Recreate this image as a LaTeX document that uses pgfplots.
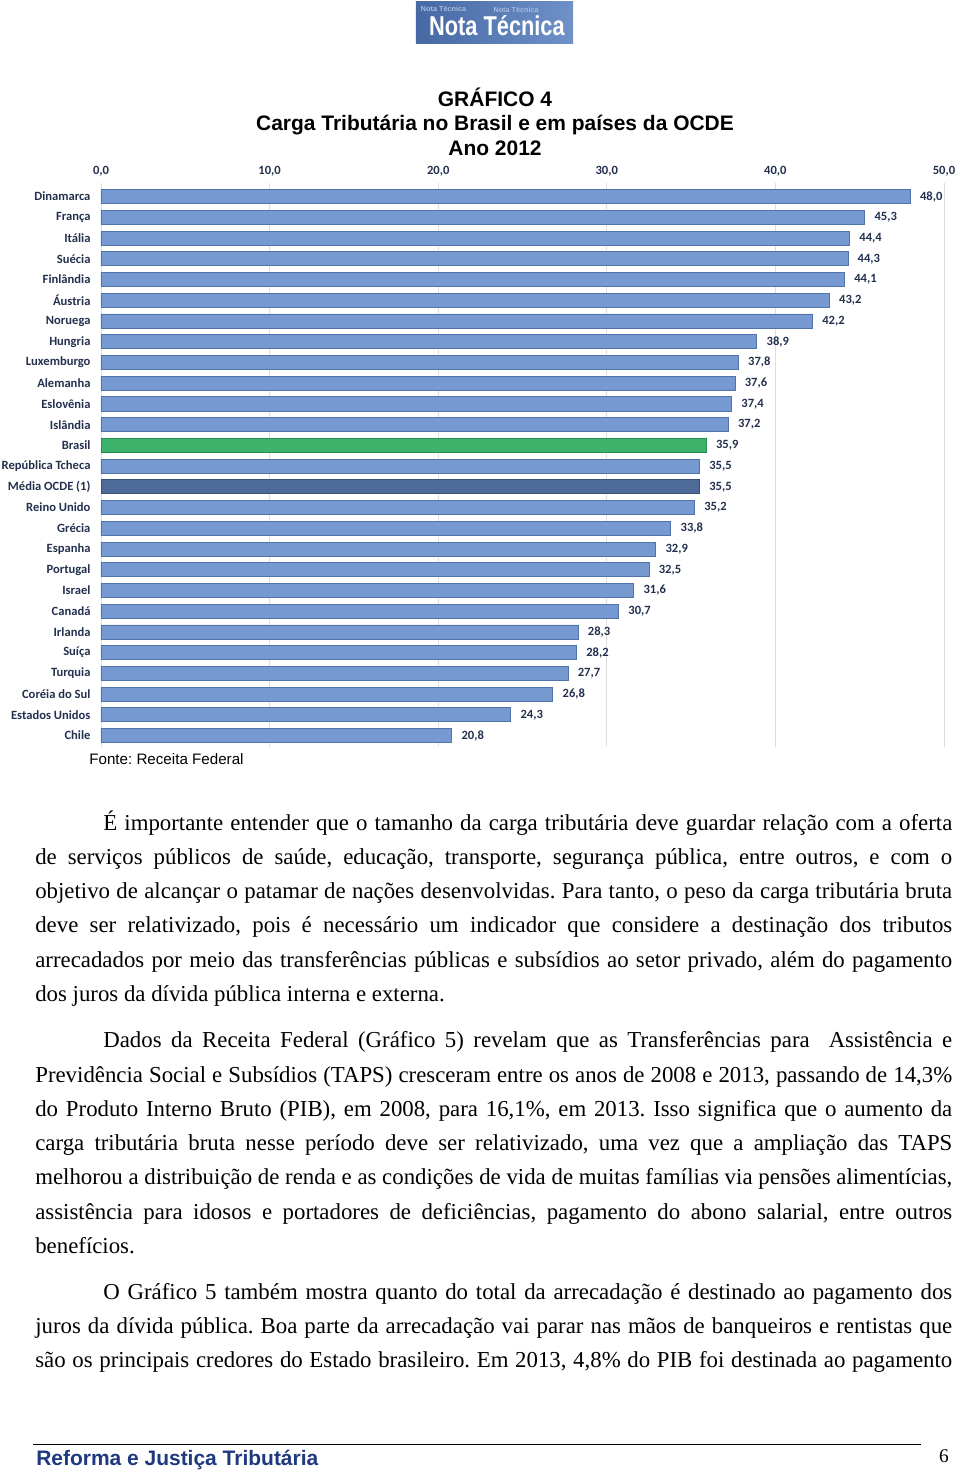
\documentclass[border=0pt]{standalone}
\usepackage{pgfplots}
\pgfplotsset{compat=1.18}
\usepackage{fontspec}
\usepackage{graphicx}
\setmainfont{Liberation Serif}
\newfontfamily\arial{Liberation Sans}
\newfontfamily\calibri{Carlito}
\frenchspacing
\definecolor{barblue}{RGB}{118,153,210}
\definecolor{barborder}{RGB}{80,115,170}
\definecolor{brgreen}{RGB}{60,178,106}
\definecolor{brborder}{RGB}{40,140,80}
\definecolor{ocde}{RGB}{78,106,152}
\definecolor{ocdeborder}{RGB}{55,80,120}
\definecolor{lbl}{RGB}{35,48,78}
\definecolor{gridc}{RGB}{222,222,222}
\definecolor{footblue}{RGB}{31,56,128}
\definecolor{logoA}{RGB}{70,105,165}
\definecolor{logoB}{RGB}{110,145,200}
\begin{document}
\begin{tikzpicture}
\path[use as bounding box] (0,0) rectangle (595.2pt,-912.64pt);
% logo
\fill[left color=logoA, right color=logoB] (257.9pt,-1.2pt) rectangle (355.3pt,-26.7pt);
\node[anchor=base, inner sep=0, text=logoB!60!white, font=\arial\bfseries\fontsize{4.5}{5}\selectfont] at (275pt,-7pt) {Nota Técnica};
\node[anchor=base, inner sep=0, text=logoB!60!white, font=\arial\bfseries\fontsize{4.5}{5}\selectfont] at (320pt,-8pt) {Nota Técnica};
\node[anchor=base, inner sep=0, text=white, font=\arial\bfseries\fontsize{13.5}{15}\selectfont] at (308.1pt,-22.2pt) {\scalebox{1}[1.25]{Nota Técnica}};
% title
\begin{scope}[every node/.style={anchor=base, inner sep=0, font=\arial\bfseries\fontsize{13}{15}\selectfont}]
\node at (306.9pt,-66.3pt) {GRÁFICO 4};
\node at (306.9pt,-81.2pt) {Carga Tributária no Brasil e em países da OCDE};
\node at (306.9pt,-96.7pt) {Ano 2012};
\end{scope}
\begin{axis}[
  at={(62.62pt,-463.14pt)}, anchor=south west,
  scale only axis, width=522.66pt, height=349.6pt,
  xbar, bar width=8.7pt, bar shift=0pt,
  xmin=0, xmax=50, ymin=-0.55, ymax=26.65,
  xtick={0,10,...,50}, xticklabel pos=upper,
  /pgf/number format/assume math mode=true,
  xticklabel={\pgfmathprintnumber[fixed,fixed zerofill,precision=1,use comma,assume math mode=true]{\tick}},
  axis line style={draw=none}, major tick length=0pt,
  xmajorgrids, grid style={gridc, line width=0.6pt},
  ytick={0,...,26},
  yticklabels={Chile, Estados Unidos, Coréia do Sul, Turquia, Suíça, Irlanda, Canadá, Israel, Portugal, Espanha, Grécia, Reino Unido, Média OCDE (1), República Tcheca, Brasil, Islândia, Eslovênia, Alemanha, Luxemburgo, Hungria, Noruega, Áustria, Finlândia, Suécia, Itália, França, Dinamarca},
  ticklabel style={font=\calibri\bfseries\fontsize{7.8}{9}\selectfont, text=lbl},
  yticklabel style={xshift=-3pt},
  xticklabel style={yshift=0.5pt},
  point meta=x,
  nodes near coords={\pgfmathprintnumber[fixed,fixed zerofill,precision=1,use comma,assume math mode=true]{\pgfplotspointmeta}},
  nodes near coords style={font=\calibri\bfseries\fontsize{7.8}{9}\selectfont, text=lbl, anchor=west, xshift=2.5pt},
]
\addplot[draw=barborder, fill=barblue, line width=0.5pt] coordinates {
(48.0,26) (45.3,25) (44.4,24) (44.3,23) (44.1,22) (43.2,21) (42.2,20) (38.9,19) (37.8,18) (37.6,17) (37.4,16) (37.2,15)
(35.5,13) (35.2,11) (33.8,10) (32.9,9) (32.5,8) (31.6,7) (30.7,6) (28.3,5) (28.2,4) (27.7,3) (26.8,2) (24.3,1) (20.8,0)};
\addplot[draw=brborder, fill=brgreen, line width=0.5pt] coordinates {(35.9,14)};
\addplot[draw=ocdeborder, fill=ocde, line width=0.5pt] coordinates {(35.5,12)};
\end{axis}
\node[anchor=base west, inner sep=0, font=\arial\fontsize{9.4}{11}\selectfont] at (55.2pt,-473.7pt) {Fonte: Receita Federal};
% body
\begin{scope}[every node/.style={anchor=base west, inner sep=0, text width=568.5pt, align=justify, font=\fontsize{14.15}{21.24}\selectfont}]
\node at (21.7pt,-514.6pt) {\hspace*{42.2pt}É importante entender que o tamanho da carga tributária deve guardar relação com a oferta\linebreak
de serviços públicos de saúde, educação, transporte, segurança pública, entre outros, e com o\linebreak
objetivo de alcançar o patamar de nações desenvolvidas. Para tanto, o peso da carga tributária bruta\linebreak
deve ser relativizado, pois é necessário um indicador que considere a destinação dos tributos\linebreak
arrecadados por meio das transferências públicas e subsídios ao setor privado, além do pagamento\linebreak
dos juros da dívida pública interna e externa.};
\node at (21.7pt,-649.7pt) {\hspace*{42.2pt}Dados da Receita Federal (Gráfico 5) revelam que as Transferências para~ Assistência e\linebreak
Previdência Social e Subsídios (TAPS) cresceram entre os anos de 2008 e 2013, passando de 14,3\%\linebreak
do Produto Interno Bruto (PIB), em 2008, para 16,1\%, em 2013. Isso significa que o aumento da\linebreak
carga tributária bruta nesse período deve ser relativizado, uma vez que a ampliação das TAPS\linebreak
melhorou a distribuição de renda e as condições de vida de muitas famílias via pensões alimentícias,\linebreak
assistência para idosos e portadores de deficiências, pagamento do abono salarial, entre outros\linebreak
benefícios.};
\node at (21.7pt,-805.4pt) {\hspace*{42.2pt}O Gráfico 5 também mostra quanto do total da arrecadação é destinado ao pagamento dos\linebreak
juros da dívida pública. Boa parte da arrecadação vai parar nas mãos de banqueiros e rentistas que\linebreak
\makebox[\linewidth][s]{são os principais credores do Estado brasileiro. Em 2013, 4,8\% do PIB foi destinada ao pagamento}};
\end{scope}
% footer
\draw[line width=0.6pt] (20.5pt,-895.3pt) -- (571pt,-895.3pt);
\node[anchor=base west, inner sep=0, text=footblue, font=\arial\bfseries\fontsize{13}{15}\selectfont] at (22.3pt,-908.9pt) {Reforma e Justiça Tributária};
\node[anchor=base, inner sep=0, font=\fontsize{12}{14}\selectfont] at (585.3pt,-906.5pt) {6};
\end{tikzpicture}
\end{document}
